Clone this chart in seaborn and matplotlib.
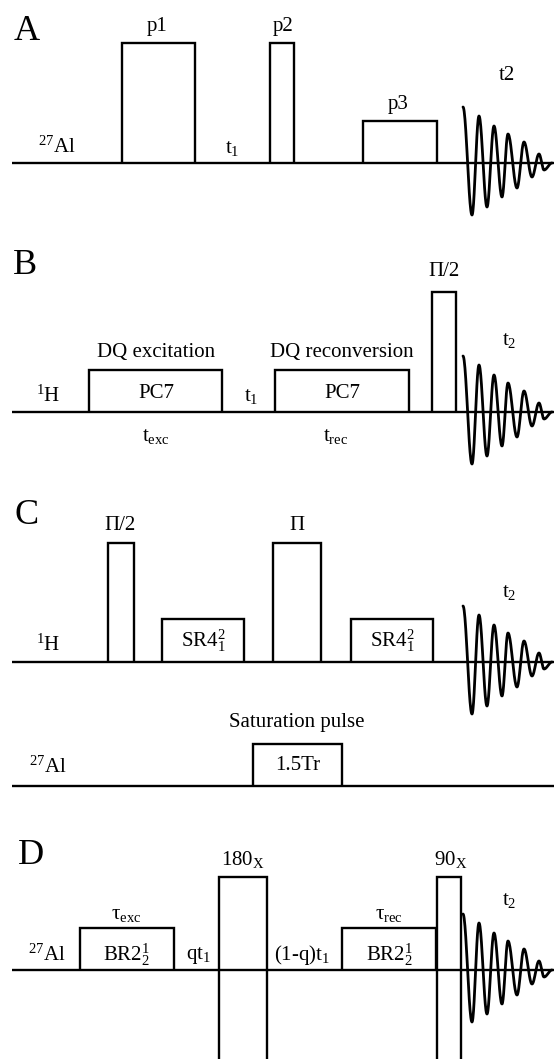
import numpy as np
import pandas as pd
import matplotlib
matplotlib.use("Agg")
import matplotlib.pyplot as plt
import seaborn as sns

# ---- sequence definitions (pixel time axis, heights in px) ----
# each pulse: (start, end, height above the channel line)
seq_a_pulses = [(122, 195, 120), (270, 294, 120), (363, 437, 42)]
seq_b_pulses = [(89, 222, 42), (275, 409, 42), (432, 456, 120)]
seq_c_h_pulses = [(108, 134, 119), (162, 244, 43), (273, 321, 119), (351, 433, 43)]
seq_c_al_pulses = [(253, 342, 42)]
seq_d_boxes = [(80, 174, 42), (342, 436, 42)]
seq_d_hard = [(219, 267), (437, 461)]   # 180x and 90x pulses crossing the line

# free induction decay: successive extrema (offset from start, amplitude)
fid_offsets = [0, 9, 16, 24, 31, 39, 45, 54, 61, 69, 76, 81, 89]
fid_amps = [56, -52, 47, -44, 37, -34, 29, -25, 21, -14, 9, -7, 0]
fid_start = 463

W, H = 554, 1059
sns.set_theme(style="white")
plt.rcParams["font.family"] = ["Liberation Serif", "DejaVu Serif"]
plt.rcParams["mathtext.fontset"] = "custom"
plt.rcParams["mathtext.rm"] = "Liberation Serif"
plt.rcParams["mathtext.it"] = "Liberation Serif:italic"

fig = plt.figure(figsize=(W / 100, H / 100), dpi=100)
ax = fig.add_axes([0, 0, 1, 1])
ax.set_xlim(0, W)
ax.set_ylim(H, 0)
ax.axis("off")

LW = 1.7
FS = 15
kw_line = dict(color="black", lw=LW, solid_joinstyle="miter", solid_capstyle="butt")


def channel(y, x0=12, x1=W):
    ax.plot([x0, x1], [y, y], **kw_line)


def pulses(base, plist):
    for x0, x1, h in plist:
        ax.plot([x0, x0, x1, x1], [base, base - h, base - h, base], **kw_line)


def fid(base):
    xs, ys = [], []
    for i in range(len(fid_offsets) - 1):
        s = np.linspace(0, 1, 24)
        a0, a1 = fid_amps[i], fid_amps[i + 1]
        xs.extend(fid_start + fid_offsets[i] + (fid_offsets[i + 1] - fid_offsets[i]) * s)
        ys.extend(base - (a0 + (a1 - a0) * (1 - np.cos(np.pi * s)) / 2))
    df = pd.DataFrame({"t": xs, "signal": ys})
    sns.lineplot(data=df, x="t", y="signal", sort=False, estimator=None,
                 color="black", lw=2.0, ax=ax)


def txt(x, y, s, size=FS):
    ax.text(x, y, s, fontsize=size, ha="center", va="center", color="black")


# ---- A ----
baseA = 163
channel(baseA)
pulses(baseA, seq_a_pulses)
fid(baseA)
txt(27, 32, "A", 26)
txt(157, 27, "p1")
txt(283, 27, "p2")
txt(398, 105, "p3")
txt(507, 75, "t2")
txt(57, 147, r"$^{27}$Al")
txt(232, 148, r"t$_{\mathrm{1}}$")

# ---- B ----
baseB = 412
channel(baseB)
pulses(baseB, seq_b_pulses)
fid(baseB)
txt(25, 266, "B", 26)
txt(156, 352, "DQ excitation")
txt(342, 352, "DQ reconversion")
txt(156, 394, "PC7")
txt(342, 394, "PC7")
txt(48, 396, r"$^{1}$H")
txt(251, 396, r"t$_{\mathrm{1}}$")
txt(156, 436, r"t$_{\mathrm{exc}}$")
txt(336, 436, r"t$_{\mathrm{rec}}$")
txt(444, 272, "Π/2")
txt(509, 340, r"t$_{\mathrm{2}}$")

# ---- C ----
baseC_h = 662
baseC_al = 786
channel(baseC_h)
channel(baseC_al)
pulses(baseC_h, seq_c_h_pulses)
pulses(baseC_al, seq_c_al_pulses)
fid(baseC_h)
txt(27, 516, "C", 26)
txt(120, 525, "Π/2")
txt(297, 525, "Π")
txt(509, 592, r"t$_{\mathrm{2}}$")
txt(48, 645, r"$^{1}$H")
txt(203, 641, r"$\mathrm{SR4}_{1}^{2}$")
txt(392, 641, r"$\mathrm{SR4}_{1}^{2}$")
txt(297, 722, "Saturation pulse")
txt(298, 765, "1.5Tr")
txt(48, 767, r"$^{27}$Al")

# ---- D ----
baseD = 970
channel(baseD)
pulses(baseD, seq_d_boxes)
for x0, x1 in seq_d_hard:
    ax.plot([x0, x0, x1, x1], [H + 10, 877, 877, H + 10], **kw_line)
fid(baseD)
txt(31, 856, "D", 26)
txt(243, 860, r"180$_{\mathrm{X}}$")
txt(451, 860, r"90$_{\mathrm{X}}$")
txt(126, 915, r"τ$_{\mathrm{exc}}$")
txt(389, 915, r"τ$_{\mathrm{rec}}$")
txt(47, 955, r"$^{27}$Al")
txt(126, 955, r"$\mathrm{BR2}_{2}^{1}$")
txt(389, 955, r"$\mathrm{BR2}_{2}^{1}$")
txt(198, 955, r"qt$_{\mathrm{1}}$")
txt(302, 955, r"(1-q)t$_{\mathrm{1}}$")
txt(509, 900, r"t$_{\mathrm{2}}$")

fig.savefig("out.png", dpi=100, facecolor="white")
